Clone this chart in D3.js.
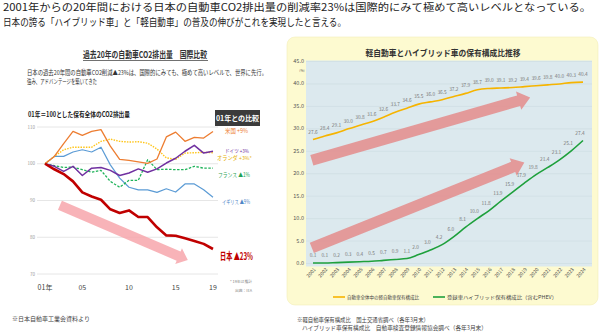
<!DOCTYPE html>
<html>
<head>
<meta charset="utf-8">
<script src="https://cdn.jsdelivr.net/npm/d3@7"></script>
<style>
  body { margin: 0; background: #fff; }
  svg { display: block; font-family: "Noto Sans CJK JP", "Noto Sans", sans-serif; }
</style>
</head>
<body>
<svg id="chart" width="600" height="333"></svg>
<script>
// Left chart: 2001 = 100
const yearsL = d3.range(2001, 2020);
const japan       = [100, 98.5, 97.2, 95.2, 92.2, 91.1, 90.2, 87.6, 86.6, 87.3, 85.5, 85.5, 82.7, 80.5, 80.4, 79.7, 79.0, 78.2, 76.8];
const usa         = [100, 102.0, 105.5, 108.8, 107.7, 108.8, 109.3, 104.8, 101.2, 100.9, 100.5, 100.1, 101.3, 107.3, 108.6, 106.1, 107.2, 107.0, 108.8];
const netherlands = [100, 102.0, 103.8, 104.5, 104.5, 104.5, 106.1, 106.7, 106.1, 105.9, 106.0, 105.6, 104.0, 101.6, 101.2, 102.9, 103.0, 103.1, 103.0];
const germany     = [100, 99.3, 97.9, 99.3, 96.8, 98.8, 99.0, 98.2, 96.8, 97.5, 98.6, 97.7, 98.6, 100.2, 101.5, 103.4, 105.0, 102.9, 103.4];
const france      = [100, 99.5, 99.0, 99.1, 98.4, 97.7, 98.2, 95.2, 93.6, 95.5, 95.5, 101.1, 98.4, 98.5, 98.4, 98.4, 99.3, 98.8, 98.8];
const uk          = [100, 102.0, 102.0, 103.2, 103.8, 103.2, 104.5, 99.7, 96.1, 93.6, 92.9, 92.9, 92.2, 93.2, 92.3, 94.5, 94.5, 92.9, 90.9];
const leftTicksY = [70, 80, 90, 100, 110];
const leftTicksX = [2001, 2005, 2010, 2015, 2019];
const leftTickLabels = ["01年", "05", "10", "15", "19"];

// Right chart: share of stock (%)
const yearsR = d3.range(2001, 2025);
const kei    = [27.6, 28.4, 29.1, 30.0, 30.8, 31.6, 32.6, 33.7, 34.6, 35.5, 36.0, 36.5, 37.2, 37.9, 38.7, 39.0, 39.1, 39.2, 39.4, 39.6, 39.8, 40.0, 40.3, 40.4];
const hybrid = [0.1, 0.1, 0.2, 0.3, 0.4, 0.5, 0.7, 0.9, 1.1, 2.0, 3.0, 4.2, 6.0, 8.1, 10.0, 11.8, 13.9, 15.9, 17.9, 19.8, 21.4, 23.1, 25.1, 27.4];
const rightTicksY = [0, 5, 10, 15, 20, 25, 30, 35, 40, 45];

const svg = d3.select("#chart");

// headline
svg.append("text").attr("x", 3).attr("y", 11).attr("font-size", 10).attr("fill", "#222")
  .attr("textLength", 588).attr("lengthAdjust", "spacingAndGlyphs")
  .text("2001年からの20年間における日本の自動車CO2排出量の削減率23%は国際的にみて極めて高いレベルとなっている。");
svg.append("text").attr("x", 3).attr("y", 25.5).attr("font-size", 10).attr("fill", "#222")
  .attr("textLength", 343).attr("lengthAdjust", "spacingAndGlyphs")
  .text("日本の誇る「ハイブリッド車」と「軽自動車」の普及の伸びがこれを実現したと言える。");

// arrow polygon helper
function arrowPath(x1, y1, x2, y2, w, hw, hl) {
  const dx = x2 - x1, dy = y2 - y1, len = Math.hypot(dx, dy);
  const ux = dx / len, uy = dy / len, nx = -uy, ny = ux;
  const bx = x2 - ux * hl, by = y2 - uy * hl;
  const p = [
    [x1 + nx * w / 2, y1 + ny * w / 2],
    [bx + nx * w / 2, by + ny * w / 2],
    [bx + nx * hw / 2, by + ny * hw / 2],
    [x2, y2],
    [bx - nx * hw / 2, by - ny * hw / 2],
    [bx - nx * w / 2, by - ny * w / 2],
    [x1 - nx * w / 2, y1 - ny * w / 2]
  ];
  return "M" + p.map(d => d.join(",")).join("L") + "Z";
}

// ---------- left chart ----------
const xL = d3.scaleLinear().domain([2001, 2019]).range([45, 213]);
const yL = d3.scaleLinear().domain([70, 110]).range([274, 127]);
const gL = svg.append("g");

gL.append("text").attr("x", 145).attr("y", 58).attr("text-anchor", "middle")
  .attr("font-size", 9.5).attr("font-weight", "bold").attr("fill", "#333")
  .attr("textLength", 124).attr("lengthAdjust", "spacingAndGlyphs")
  .text("過去20年の自動車CO2排出量　国際比較");
gL.append("line").attr("x1", 83).attr("x2", 208).attr("y1", 60.5).attr("y2", 60.5).attr("stroke", "#333").attr("stroke-width", 0.7);

gL.append("text").attr("x", 27).attr("y", 75).attr("font-size", 6.5).attr("fill", "#333")
  .attr("textLength", 240).attr("lengthAdjust", "spacingAndGlyphs")
  .text("日本の過去20年間の自動車CO2削減▲23%は、国際的にみても、極めて高いレベルで、世界に先行。");
gL.append("text").attr("x", 27).attr("y", 84).attr("font-size", 6.5).attr("fill", "#333")
  .attr("textLength", 70).attr("lengthAdjust", "spacingAndGlyphs")
  .text("強み、アドバンテージを築いてきた");
gL.append("text").attr("x", 28).attr("y", 117).attr("font-size", 7).attr("font-weight", "bold").attr("fill", "#222")
  .attr("textLength", 102).attr("lengthAdjust", "spacingAndGlyphs")
  .text("01年＝100とした保有全体のCO2排出量");

gL.append("rect").attr("x", 215).attr("y", 110).attr("width", 45).attr("height", 16).attr("fill", "#3b3b3b");
gL.append("text").attr("x", 237.5).attr("y", 121).attr("text-anchor", "middle").attr("font-size", 7)
  .attr("fill", "#fff").attr("font-weight", "bold").text("01年との比較");

gL.selectAll(".gridL").data(leftTicksY).join("line")
  .attr("x1", 37).attr("x2", 218)
  .attr("y1", d => yL(d)).attr("y2", d => yL(d))
  .attr("stroke", "#e0e0e0").attr("stroke-width", 0.8);
gL.selectAll(".ylabL").data(leftTicksY).join("text")
  .attr("x", 35).attr("y", d => yL(d) + 1.5).attr("text-anchor", "end")
  .attr("font-size", 4.5).attr("fill", "#999").text(d => d);
gL.selectAll(".xlabL").data(leftTicksX).join("text")
  .attr("x", d => xL(d)).attr("y", 290).attr("text-anchor", "middle")
  .attr("font-size", 7).attr("fill", "#444").text((d, i) => leftTickLabels[i]);

gL.append("text").attr("x", 252).attr("y", 283).attr("text-anchor", "end").attr("font-size", 3.8).attr("fill", "#888").text("* 19年は推計");
gL.append("text").attr("x", 252).attr("y", 292).attr("text-anchor", "end").attr("font-size", 3.8).attr("fill", "#888").text("出典：IEA");

// left pink arrow
gL.append("path")
  .attr("d", arrowPath(xL(2002.6), yL(88.7), xL(2016.3), yL(73.8), 10, 17, 10))
  .attr("fill", "#f7a6ab").attr("opacity", 0.85);

const lineL = d3.line().x((d, i) => xL(yearsL[i])).y(d => yL(d));
const seriesL = [
  {v: uk, c: "#5b9bd5", w: 1.2, dash: null},
  {v: france, c: "#1fb35a", w: 1.3, dash: "2.5,1.5"},
  {v: netherlands, c: "#ffc51a", w: 1.4, dash: "1.5,1.2"},
  {v: germany, c: "#7030a0", w: 1.5, dash: null},
  {v: usa, c: "#ed7d31", w: 1.3, dash: null},
  {v: japan, c: "#c00000", w: 2.6, dash: null}
];
gL.selectAll(".serL").data(seriesL).join("path")
  .attr("d", d => lineL(d.v)).attr("fill", "none")
  .attr("stroke", d => d.c).attr("stroke-width", d => d.w)
  .attr("stroke-dasharray", d => d.dash).attr("stroke-linejoin", "round");

const labelsL = [
  {t: "米国 +9%", x: 225, y: 133, c: "#ed7d31", w: 23, fs: 6},
  {t: "ドイツ +3%", x: 225, y: 152.5, c: "#7030a0", w: 24, fs: 5.3},
  {t: "オランダ +3%*", x: 217, y: 160, c: "#e6b000", w: 35, fs: 5.3},
  {t: "フランス ▲1%", x: 218, y: 177, c: "#1fa355", w: 32, fs: 6},
  {t: "イギリス ▲9%", x: 222, y: 204, c: "#4f86c6", w: 28, fs: 6}
];
gL.selectAll(".labL").data(labelsL).join("text")
  .attr("x", d => d.x).attr("y", d => d.y).attr("font-size", d => d.fs)
  .attr("fill", d => d.c).attr("textLength", d => d.w).attr("lengthAdjust", "spacingAndGlyphs")
  .text(d => d.t);
gL.append("text").attr("x", 220).attr("y", 260).attr("font-size", 10).attr("font-weight", "bold")
  .attr("fill", "#c00000").attr("textLength", 33).attr("lengthAdjust", "spacingAndGlyphs").text("日本 ▲23%");

svg.append("text").attr("x", 12).attr("y", 321).attr("font-size", 6).attr("fill", "#444")
  .attr("textLength", 78).attr("lengthAdjust", "spacingAndGlyphs").text("※日本自動車工業会資料より");

// ---------- right chart ----------
const gR = svg.append("g");
gR.append("rect").attr("x", 287).attr("y", 37).attr("width", 311).attr("height", 268).attr("rx", 8)
  .attr("fill", "#fdfad0").attr("stroke", "#f3eeb8").attr("stroke-width", 0.6);

const xR = d3.scaleLinear().domain([2001, 2024]).range([313, 583]);
const yR = d3.scaleLinear().domain([0, 45]).range([263.5, 61.5]);

gR.append("text").attr("x", 443).attr("y", 56).attr("text-anchor", "middle").attr("font-size", 8.5)
  .attr("font-weight", "bold").attr("fill", "#333")
  .attr("textLength", 155).attr("lengthAdjust", "spacingAndGlyphs")
  .text("軽自動車とハイブリッド車の保有構成比推移");

gR.append("rect").attr("x", 306).attr("y", yR(45) - 1).attr("width", 286).attr("height", yR(0) - yR(45) + 4)
  .attr("fill", "#dce9ee");
gR.selectAll(".gridR").data(rightTicksY).join("line")
  .attr("x1", 306).attr("x2", 592)
  .attr("y1", d => yR(d)).attr("y2", d => yR(d))
  .attr("stroke", "#c9d8de").attr("stroke-width", 0.5);
gR.selectAll(".ylabR").data(rightTicksY).join("text")
  .attr("x", 304).attr("y", d => yR(d) + 1.5).attr("text-anchor", "end")
  .attr("font-size", 5.5).attr("fill", "#555").text(d => d3.format(".1f")(d));
gR.append("text").attr("x", 302).attr("y", yR(45) + 10.5).attr("text-anchor", "middle").attr("font-size", 3.3).attr("fill", "#555").text("(%)");

gR.selectAll(".xlabR").data(yearsR).join("text")
  .attr("transform", d => `translate(${xR(d) + 3},${yR(0) + 6}) rotate(-50)`)
  .attr("text-anchor", "end").attr("font-size", 5).attr("fill", "#555").text(d => d);

// pink arrows
const arrowsR = [
  {x1: 2000.9, v1: 23.0, x2: 2019.5, v2: 37.0},
  {x1: 2000.9, v1: 3.5, x2: 2019.0, v2: 22.5}
];
gR.selectAll(".arrR").data(arrowsR).join("path")
  .attr("d", d => arrowPath(xR(d.x1), yR(d.v1), xR(d.x2), yR(d.v2), 11, 19, 12))
  .attr("fill", "#e39393").attr("opacity", 0.92);

const lineR = d3.line().x((d, i) => xR(yearsR[i])).y(d => yR(d)).curve(d3.curveMonotoneX);
gR.append("path").attr("d", lineR(kei)).attr("fill", "none").attr("stroke", "#f6b400").attr("stroke-width", 1.6);
gR.append("path").attr("d", lineR(hybrid)).attr("fill", "none").attr("stroke", "#1ea03c").attr("stroke-width", 1.6);

gR.selectAll(".keiLab").data(kei).join("text")
  .attr("x", (d, i) => xR(yearsR[i])).attr("y", d => yR(d) - 6).attr("text-anchor", "middle")
  .attr("font-size", 4.8).attr("fill", "#777").text(d => d3.format(".1f")(d));
gR.selectAll(".hybLab").data(hybrid).join("text")
  .attr("x", (d, i) => xR(yearsR[i]) - (d > 1.5 ? 3 : 0)).attr("y", d => yR(d) - 6).attr("text-anchor", "middle")
  .attr("font-size", 4.8).attr("fill", "#777").text(d => d3.format(".1f")(d));

// legend
const legend = [
  {t: "自動車全体中の軽自動車保有構成比", c: "#f6b400", x: 333, w: 72},
  {t: "登録車ハイブリッド保有構成比（含むPHEV）", c: "#1ea03c", x: 433, w: 110}
];
const lg = gR.selectAll(".lg").data(legend).join("g");
lg.append("line").attr("x1", d => d.x).attr("x2", d => d.x + 12).attr("y1", 297).attr("y2", 297)
  .attr("stroke", d => d.c).attr("stroke-width", 1.6);
lg.append("text").attr("x", d => d.x + 14).attr("y", 299).attr("font-size", 5).attr("fill", "#444")
  .attr("textLength", d => d.w).attr("lengthAdjust", "spacingAndGlyphs").text(d => d.t);

svg.append("text").attr("x", 297).attr("y", 322).attr("font-size", 6).attr("fill", "#444")
  .attr("textLength", 132).attr("lengthAdjust", "spacingAndGlyphs")
  .text("※軽自動車保有構成比　国土交通省調べ（各年3月末）");
svg.append("text").attr("x", 302).attr("y", 330).attr("font-size", 6).attr("fill", "#444")
  .attr("textLength", 185).attr("lengthAdjust", "spacingAndGlyphs")
  .text("ハイブリッド車保有構成比　自動車検査登録情報協会調べ（各年3月末）");
</script>
</body>
</html>
